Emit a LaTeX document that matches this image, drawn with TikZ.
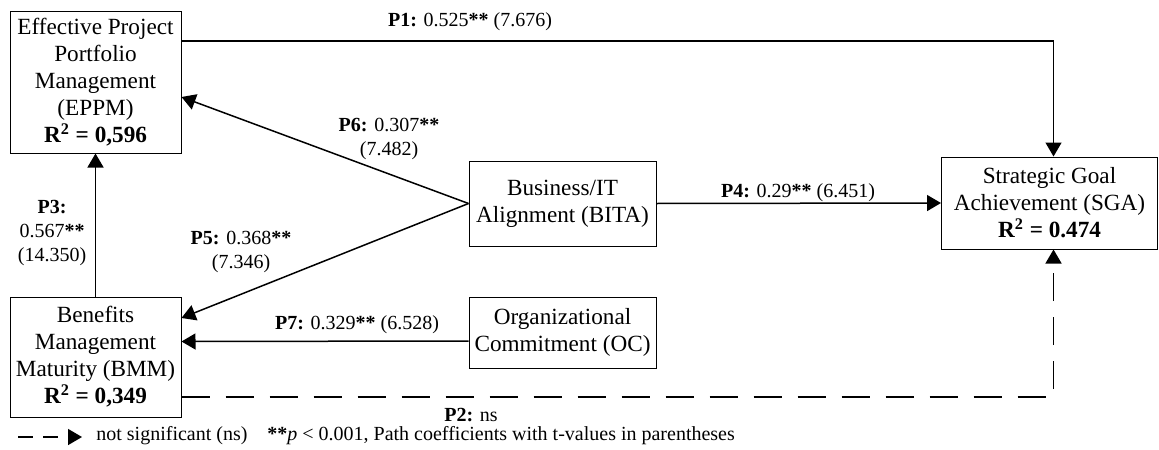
\documentclass[tikz,border=0pt]{standalone}
\usepackage{fontspec}
\setmainfont{Liberation Serif}
\usepackage{tikz}
\usetikzlibrary{arrows.meta,positioning,calc}
\tikzset{
    %Define standard arrow tip
    >={Triangle[length=7pt,width=8pt]},
    %Define style for boxes
    konstrukt/.style={
           rectangle,
           draw=black, line width=0.5pt,
           align=center,
           inner sep=0pt,
           font=\fontsize{11.6}{13.5}\selectfont},
    % Define arrow style
    pfad/.style={
           ->,
           line width=0.75pt},
    % Dashed arrow for non significant path
    nspfad/.style={
           ->,
           line width=0.75pt,
           dash pattern=on 14pt off 8pt},
    % Node for path coefficients
    koeff/.style={
           align=center,
           inner sep=0pt,
           font=\fontsize{10}{12}\selectfont}
}

\begin{document}
\begin{tikzpicture}[x=0.5pt,y=-0.5pt]
    \useasboundingbox (0,0) rectangle (1159,449);
    	\node[konstrukt, minimum width=85.5pt, minimum height=70.5pt] (eppm) at (95.5,82.5)
    	{Effective Project\\Portfolio\\Management\\(EPPM)\\\textbf{R\textsuperscript{2} = 0,596}};
    	\node[konstrukt, minimum width=85.5pt, minimum height=60pt] (bmm) at (95.5,357)
    	{Benefits\\Management\\Maturity (BMM)\\\textbf{R\textsuperscript{2} = 0,349}};
    	\node[konstrukt, minimum width=93.5pt, minimum height=42.5pt] (bita) at (562.5,203.5)
    	{Business/IT\\Alignment (BITA)};
    	\node[konstrukt, minimum width=93.5pt, minimum height=35.5pt] (oc) at (562.5,332.5)
    	{Organizational\\Commitment (OC)};
    	\node[konstrukt, minimum width=108pt, minimum height=46pt] (sga) at (1049.5,203)
    	{Strategic Goal\\Achievement (SGA)\\\textbf{R\textsuperscript{2} = 0.474}};
    	% paths
    	\draw[pfad] ($(eppm.east)+(0,-41.5)$) -| ($(sga.north)+(4,0)$);
    	\draw[pfad] (bita.east) -- (sga.west);
    	\draw[pfad] (bita.west) -- ($(eppm.east)+(0,14.5)$);
    	\draw[pfad] (bita.west) -- ($(bmm.east)+(0,-39)$);
    	\draw[pfad] ($(oc.west)+(0,8.5)$) -- ($(bmm.east)+(0,-15.5)$);
    	\draw[pfad] (bmm.north) -- (eppm.south);
    	\draw[nspfad] ($(bmm.east)+(0,40)$) -| ($(sga.south)+(4,0)$);
    	% coefficients
    	\node[koeff] (p1) at (470,22) {\textbf{P1:} 0.525\textbf{**} (7.676)};
    	\node[koeff] (p6) at (389,139) {\textbf{P6:} 0.307\textbf{**}\\(7.482)};
    	\node[koeff] (p4) at (798,193) {\textbf{P4:} 0.29\textbf{**} (6.451)};
    	\node[koeff] (p3) at (52,233) {\textbf{P3:}\\0.567\textbf{**}\\(14.350)};
    	\node[koeff] (p5) at (241,252) {\textbf{P5:} 0.368\textbf{**}\\(7.346)};
    	\node[koeff] (p7) at (357,325) {\textbf{P7:} 0.329\textbf{**} (6.528)};
    	\node[koeff] (p2) at (471,415) {\textbf{P2:} ns};
    	% legend
    	\coordinate (legA) at (18,437);
    	\coordinate (legB) at (82,437);
    	\draw[->, line width=0.75pt, dash pattern=on 7.5pt off 5pt] (legA) -- (legB);
    	\node[koeff, anchor=west] (legns) at (96,436) {not significant (ns)};
    	\node[koeff, anchor=west] (legp) at (267,436)
    	{\textbf{**}\textit{p} < 0.001, Path coefficients with t-values in parentheses};
\end{tikzpicture}
\end{document}
